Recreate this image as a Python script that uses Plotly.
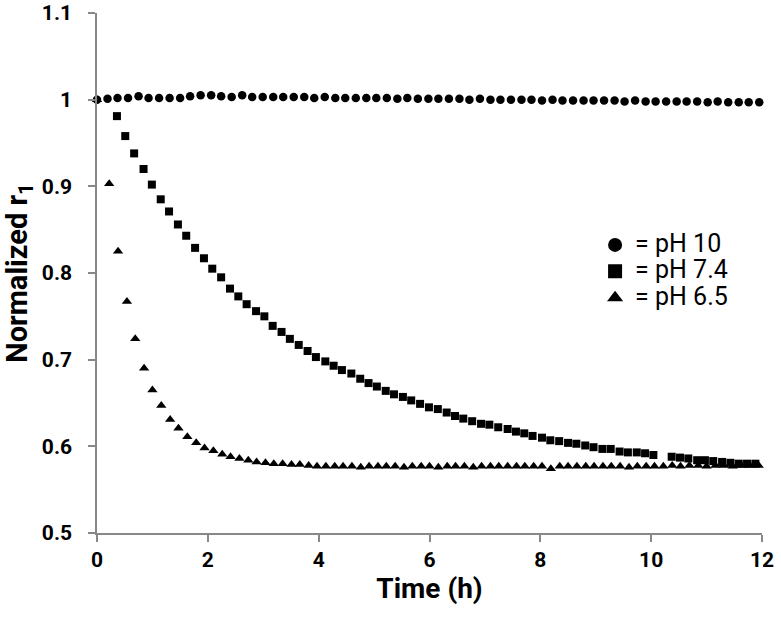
import plotly.graph_objects as go

# ---- data ----
t_ph10 = [0.00, 0.19, 0.37, 0.56, 0.75, 0.93, 1.12, 1.31, 1.50, 1.68,
          1.87, 2.06, 2.24, 2.43, 2.62, 2.80, 2.99, 3.18, 3.36, 3.55,
          3.74, 3.92, 4.11, 4.30, 4.48, 4.67, 4.86, 5.04, 5.23, 5.42,
          5.60, 5.79, 5.98, 6.16, 6.35, 6.54, 6.72, 6.91, 7.10, 7.28,
          7.47, 7.66, 7.84, 8.03, 8.22, 8.40, 8.59, 8.78, 8.96, 9.15,
          9.34, 9.52, 9.71, 9.90, 10.08, 10.27, 10.46, 10.64, 10.83, 11.02,
          11.20, 11.39, 11.58, 11.76, 11.95]
r1_ph10 = [1.000, 1.001, 1.002, 1.002, 1.004, 1.002, 1.002, 1.002, 1.002, 1.004,
           1.005, 1.005, 1.004, 1.003, 1.005, 1.003, 1.003, 1.003, 1.003, 1.003,
           1.003, 1.002, 1.003, 1.002, 1.002, 1.002, 1.002, 1.002, 1.002, 1.001,
           1.002, 1.001, 1.001, 1.001, 1.001, 1.001, 1.000, 1.001, 1.000, 1.000,
           1.000, 1.000, 1.000, 0.999, 1.000, 0.999, 0.999, 0.999, 0.999, 0.999,
           0.999, 0.998, 0.999, 0.998, 0.998, 0.998, 0.998, 0.998, 0.998, 0.997,
           0.998, 0.997, 0.997, 0.997, 0.997]

t_ph74 = [0.36, 0.51, 0.67, 0.84, 0.99, 1.15, 1.30, 1.46, 1.61, 1.77,
          1.93, 2.08, 2.24, 2.40, 2.55, 2.70, 2.87, 3.02, 3.17, 3.33,
          3.48, 3.64, 3.80, 3.95, 4.12, 4.27, 4.42, 4.59, 4.75, 4.90,
          5.05, 5.21, 5.36, 5.52, 5.67, 5.83, 5.99, 6.15, 6.31, 6.46,
          6.61, 6.77, 6.93, 7.08, 7.24, 7.41, 7.56, 7.71, 7.86, 8.03,
          8.18, 8.34, 8.50, 8.65, 8.81, 8.96, 9.12, 9.27, 9.43, 9.58,
          9.74, 9.89, 10.04, 10.37, 10.52, 10.67, 10.83, 10.97, 11.12, 11.28,
          11.43, 11.58, 11.73, 11.88]
r1_ph74 = [0.981, 0.958, 0.938, 0.920, 0.902, 0.885, 0.871, 0.856, 0.843, 0.829,
           0.817, 0.805, 0.795, 0.782, 0.773, 0.764, 0.756, 0.750, 0.739, 0.732,
           0.724, 0.717, 0.710, 0.703, 0.698, 0.693, 0.688, 0.684, 0.678, 0.673,
           0.669, 0.664, 0.660, 0.657, 0.653, 0.649, 0.645, 0.643, 0.639, 0.635,
           0.632, 0.629, 0.626, 0.625, 0.622, 0.620, 0.617, 0.615, 0.612, 0.610,
           0.607, 0.606, 0.604, 0.603, 0.601, 0.599, 0.597, 0.597, 0.594, 0.593,
           0.593, 0.592, 0.590, 0.588, 0.587, 0.586, 0.584, 0.584, 0.583, 0.582,
           0.581, 0.580, 0.580, 0.580]

t_ph65 = [0.00, 0.22, 0.38, 0.54, 0.69, 0.85, 1.00, 1.16, 1.32, 1.47,
          1.63, 1.79, 1.94, 2.10, 2.26, 2.41, 2.57, 2.73, 2.88, 3.04,
          3.19, 3.35, 3.51, 3.66, 3.82, 3.97, 4.13, 4.29, 4.44, 4.60,
          4.76, 4.91, 5.07, 5.22, 5.38, 5.54, 5.69, 5.85, 6.00, 6.16,
          6.32, 6.47, 6.63, 6.79, 6.94, 7.10, 7.25, 7.41, 7.57, 7.72,
          7.88, 8.03, 8.19, 8.35, 8.50, 8.66, 8.82, 8.97, 9.13, 9.28,
          9.44, 9.60, 9.75, 9.91, 10.06, 10.22, 10.38, 10.53, 10.69, 10.85,
          11.00, 11.16, 11.31, 11.47, 11.63, 11.78, 11.94]
r1_ph65 = [1.000, 0.903, 0.825, 0.767, 0.724, 0.690, 0.665, 0.647, 0.631, 0.621,
           0.611, 0.604, 0.598, 0.595, 0.591, 0.588, 0.586, 0.584, 0.582, 0.581,
           0.580, 0.580, 0.579, 0.579, 0.578, 0.577, 0.577, 0.577, 0.577, 0.577,
           0.576, 0.577, 0.577, 0.577, 0.577, 0.576, 0.577, 0.577, 0.577, 0.576,
           0.577, 0.577, 0.577, 0.576, 0.577, 0.577, 0.577, 0.577, 0.577, 0.577,
           0.577, 0.577, 0.574, 0.577, 0.577, 0.577, 0.577, 0.577, 0.577, 0.577,
           0.577, 0.576, 0.577, 0.577, 0.577, 0.577, 0.578, 0.577, 0.578, 0.578,
           0.577, 0.578, 0.578, 0.577, 0.578, 0.578, 0.578]

legend_labels = ["= pH 10", "= pH 7.4", "= pH 6.5"]
x_ticks = [0, 2, 4, 6, 8, 10, 12]
x_tick_text = ["0", "2", "4", "6", "8", "10", "12"]
y_ticks = [0.5, 0.6, 0.7, 0.8, 0.9, 1.0, 1.1]
y_tick_text = ["0.5", "0.6", "0.7", "0.8", "0.9", "1", "1.1"]

FONT = "Roboto, Arial, sans-serif"
AXIS_COLOR = "#888888"

fig = go.Figure()

series = [
    (t_ph74, r1_ph74, "square", 8),
    (t_ph10, r1_ph10, "circle", 8.5),
    (t_ph65, r1_ph65, "triangle-up", 9),
]
for tx, ry, sym, sz in series:
    fig.add_trace(go.Scatter(
        x=tx, y=ry, mode="markers", showlegend=False, cliponaxis=False,
        marker=dict(symbol=sym, size=sz, color="black", line=dict(width=0)),
    ))

# legend entries
for lbl, sym in zip(legend_labels, ["circle", "square", "triangle-up"]):
    fig.add_trace(go.Scatter(
        x=[None], y=[None], mode="markers",
        name="<span style='font-size:25px'>%s</span>" % lbl,
        marker=dict(symbol=sym, size=14, color="black"),
    ))

fig.update_layout(
    width=781, height=620,
    margin=dict(l=97, r=19, t=13, b=87),
    paper_bgcolor="white", plot_bgcolor="white",
    font=dict(family=FONT, color="black"),
    showlegend=True,
    legend=dict(
        x=0.749, y=0.589, xanchor="left", yanchor="top",
        bgcolor="rgba(0,0,0,0)", font=dict(size=18, family=FONT),
        itemsizing="trace", tracegroupgap=0,
    ),
    xaxis=dict(
        range=[0, 12], tickvals=x_ticks, ticktext=["<b>%s</b>" % s for s in x_tick_text],
        showgrid=False, zeroline=False, automargin=False, ticklabeloverflow="allow",
        showline=True, linecolor=AXIS_COLOR, linewidth=1.5,
        ticks="outside", ticklen=7, tickcolor=AXIS_COLOR, tickwidth=1.5,
        tickfont=dict(size=21, family=FONT),
        title=dict(text="<b>Time (h)</b>", font=dict(size=28, family=FONT), standoff=2),
    ),
    yaxis=dict(
        range=[0.5, 1.1], tickvals=y_ticks, ticktext=["<b>%s</b>" % s for s in y_tick_text],
        showgrid=False, zeroline=False, automargin=False, ticklabeloverflow="allow",
        showline=True, linecolor=AXIS_COLOR, linewidth=1.5,
        ticks="outside", ticklen=7, tickcolor=AXIS_COLOR, tickwidth=1.5,
        tickfont=dict(size=21, family=FONT), ticklabelstandoff=12,
        title=dict(text="<b>Normalized r<sub>1</sub></b>", font=dict(size=29, family=FONT), standoff=28),
    ),
)

# remove the browser's default body margin so the figure fills the window
fig.write_html("out.html", config={"displayModeBar": False},
               post_script="document.body.style.margin='0';")
